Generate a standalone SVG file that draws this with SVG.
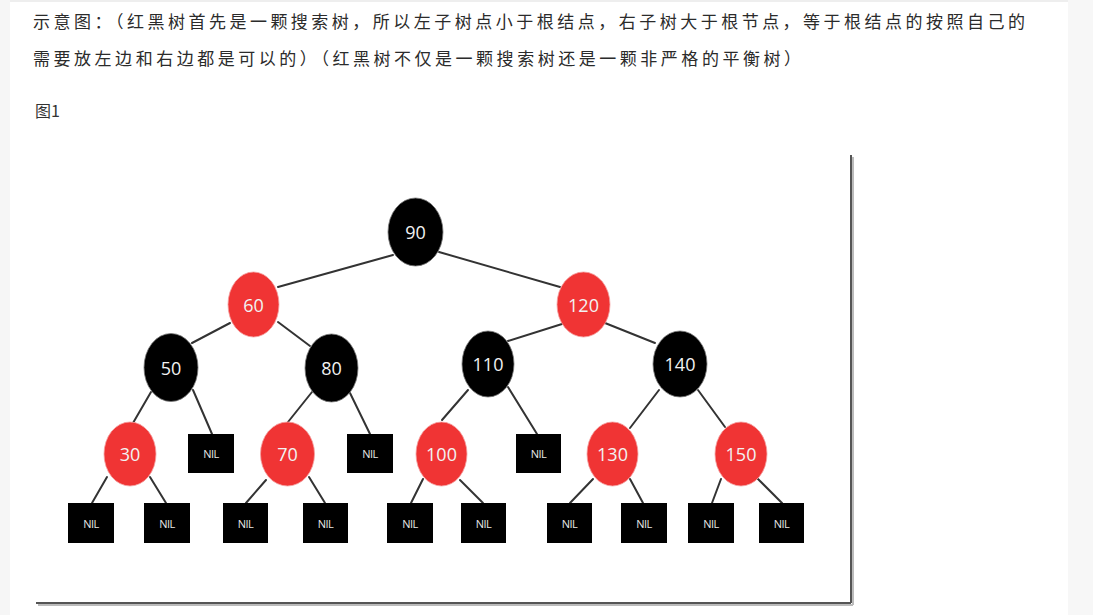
<svg xmlns="http://www.w3.org/2000/svg" width="1093" height="615" viewBox="0 0 1093 615">
<style>
.cap{font-family:"Noto Sans CJK SC","Noto Sans",sans-serif;font-size:17px;fill:#2b2b2b}
.fig{font-family:"Noto Sans CJK SC","Liberation Sans",sans-serif;font-size:16px;fill:#333}
.edge{stroke:#333;stroke-width:2;stroke-linecap:round}
.red{fill:#f03434;stroke:#f4a0a0;stroke-width:0.8}
.blk{fill:#000;stroke:#777;stroke-width:0.8}
.num{font-family:"Open Sans","Liberation Sans",sans-serif;font-size:18px;fill:#f2f2f2;text-anchor:middle;dominant-baseline:central}
.nil{fill:#000}
.nilt{font-family:"Open Sans","Liberation Sans",sans-serif;font-size:11px;fill:#e8e8e8;text-anchor:middle;dominant-baseline:central;letter-spacing:-0.5px}
</style>
<rect width="1093" height="615" fill="#fff"/>
<rect x="0" y="0" width="10" height="615" fill="#f6f6f6"/>
<rect x="1068" y="0" width="25" height="615" fill="#f7f7f7"/>
<line x1="10" y1="1" x2="1068" y2="1" stroke="#eeeeee" stroke-width="2"/>
<text class="cap" x="33" y="28" textLength="992" lengthAdjust="spacing">示意图：（红黑树首先是一颗搜索树，所以左子树点小于根结点，右子树大于根节点，等于根结点的按照自己的</text>
<text class="cap" x="33" y="65" textLength="768" lengthAdjust="spacing">需要放左边和右边都是可以的）（红黑树不仅是一颗搜索树还是一颗非严格的平衡树）</text>
<text class="fig" x="35" y="117">图1</text>
<g id="frame">
<line x1="853" y1="157" x2="853" y2="605" stroke="#bbb" stroke-width="2"/>
<line x1="38" y1="605" x2="853" y2="605" stroke="#bbb" stroke-width="2"/>
<line x1="851" y1="155" x2="851" y2="603" stroke="#555" stroke-width="2"/>
<line x1="36" y1="603" x2="851" y2="603" stroke="#555" stroke-width="2"/>
</g>
<g id="connectors">
<line class="edge" x1="393" y1="255" x2="278" y2="287"/>
<line class="edge" x1="439" y1="252" x2="560" y2="287"/>
<line class="edge" x1="230" y1="323" x2="192" y2="343"/>
<line class="edge" x1="278" y1="322" x2="310" y2="346"/>
<line class="edge" x1="562" y1="324" x2="508" y2="341"/>
<line class="edge" x1="605" y1="323" x2="655" y2="343"/>
<line class="edge" x1="151" y1="392" x2="133" y2="423"/>
<line class="edge" x1="193" y1="390" x2="212" y2="434"/>
<line class="edge" x1="312" y1="392" x2="288" y2="422"/>
<line class="edge" x1="350" y1="393" x2="370" y2="434"/>
<line class="edge" x1="468" y1="390" x2="442" y2="420"/>
<line class="edge" x1="508" y1="387" x2="537" y2="434"/>
<line class="edge" x1="659" y1="390" x2="630" y2="428"/>
<line class="edge" x1="698" y1="390" x2="725" y2="427"/>
<line class="edge" x1="107" y1="477" x2="92" y2="503"/>
<line class="edge" x1="150" y1="477" x2="166" y2="503"/>
<line class="edge" x1="266" y1="480" x2="246" y2="503"/>
<line class="edge" x1="309" y1="477" x2="325" y2="503"/>
<line class="edge" x1="423" y1="479" x2="411" y2="503"/>
<line class="edge" x1="460" y1="480" x2="483" y2="503"/>
<line class="edge" x1="593" y1="479" x2="570" y2="503"/>
<line class="edge" x1="630" y1="479" x2="643" y2="503"/>
<line class="edge" x1="721" y1="479" x2="712" y2="503"/>
<line class="edge" x1="758" y1="479" x2="782" y2="503"/>
</g>
<g id="n90"><ellipse class="blk" cx="415.5" cy="232" rx="27.5" ry="34"/><text class="num" x="415.5" y="232">90</text></g>
<g id="n60"><ellipse class="red" cx="253.5" cy="304.5" rx="25.5" ry="32.5"/><text class="num" x="253.5" y="304.5">60</text></g>
<g id="n120"><ellipse class="red" cx="583.5" cy="304.5" rx="26.5" ry="32.5"/><text class="num" x="583.5" y="304.5">120</text></g>
<g id="n50"><ellipse class="blk" cx="171" cy="367.5" rx="27" ry="34"/><text class="num" x="171" y="367.5">50</text></g>
<g id="n80"><ellipse class="blk" cx="331.5" cy="368" rx="26.5" ry="34"/><text class="num" x="331.5" y="368">80</text></g>
<g id="n110"><ellipse class="blk" cx="488" cy="364" rx="26" ry="33"/><text class="num" x="488" y="364">110</text></g>
<g id="n140"><ellipse class="blk" cx="680" cy="364" rx="27" ry="33"/><text class="num" x="680" y="364">140</text></g>
<g id="n30"><ellipse class="red" cx="130" cy="454" rx="26" ry="32"/><text class="num" x="130" y="454">30</text></g>
<g id="n70"><ellipse class="red" cx="287.5" cy="454" rx="27" ry="32"/><text class="num" x="287.5" y="454">70</text></g>
<g id="n100"><ellipse class="red" cx="441.5" cy="454" rx="25.5" ry="32"/><text class="num" x="441.5" y="454">100</text></g>
<g id="n130"><ellipse class="red" cx="612.5" cy="454" rx="25.5" ry="32"/><text class="num" x="612.5" y="454">130</text></g>
<g id="n150"><ellipse class="red" cx="741" cy="454" rx="26" ry="32"/><text class="num" x="741" y="454">150</text></g>
<g id="nil50"><rect class="nil" x="188" y="434" width="46" height="39"/><text class="nilt" x="211" y="453.5">NIL</text></g>
<g id="nil80"><rect class="nil" x="347" y="434" width="46" height="39"/><text class="nilt" x="370" y="453.5">NIL</text></g>
<g id="nil110"><rect class="nil" x="516" y="434" width="45" height="39"/><text class="nilt" x="538.5" y="453.5">NIL</text></g>
<g id="nil30a"><rect class="nil" x="68" y="503" width="46" height="40"/><text class="nilt" x="91" y="523">NIL</text></g>
<g id="nil30b"><rect class="nil" x="144" y="503" width="46" height="40"/><text class="nilt" x="167" y="523">NIL</text></g>
<g id="nil70a"><rect class="nil" x="223" y="503" width="45" height="40"/><text class="nilt" x="245.5" y="523">NIL</text></g>
<g id="nil70b"><rect class="nil" x="303" y="503" width="45" height="40"/><text class="nilt" x="325.5" y="523">NIL</text></g>
<g id="nil100a"><rect class="nil" x="387" y="503" width="46" height="40"/><text class="nilt" x="410" y="523">NIL</text></g>
<g id="nil100b"><rect class="nil" x="461" y="503" width="45" height="40"/><text class="nilt" x="483.5" y="523">NIL</text></g>
<g id="nil130a"><rect class="nil" x="547" y="503" width="45" height="40"/><text class="nilt" x="569.5" y="523">NIL</text></g>
<g id="nil130b"><rect class="nil" x="621" y="503" width="46" height="40"/><text class="nilt" x="644" y="523">NIL</text></g>
<g id="nil150a"><rect class="nil" x="688" y="503" width="46" height="40"/><text class="nilt" x="711" y="523">NIL</text></g>
<g id="nil150b"><rect class="nil" x="759" y="503" width="45" height="40"/><text class="nilt" x="781.5" y="523">NIL</text></g>
</svg>
